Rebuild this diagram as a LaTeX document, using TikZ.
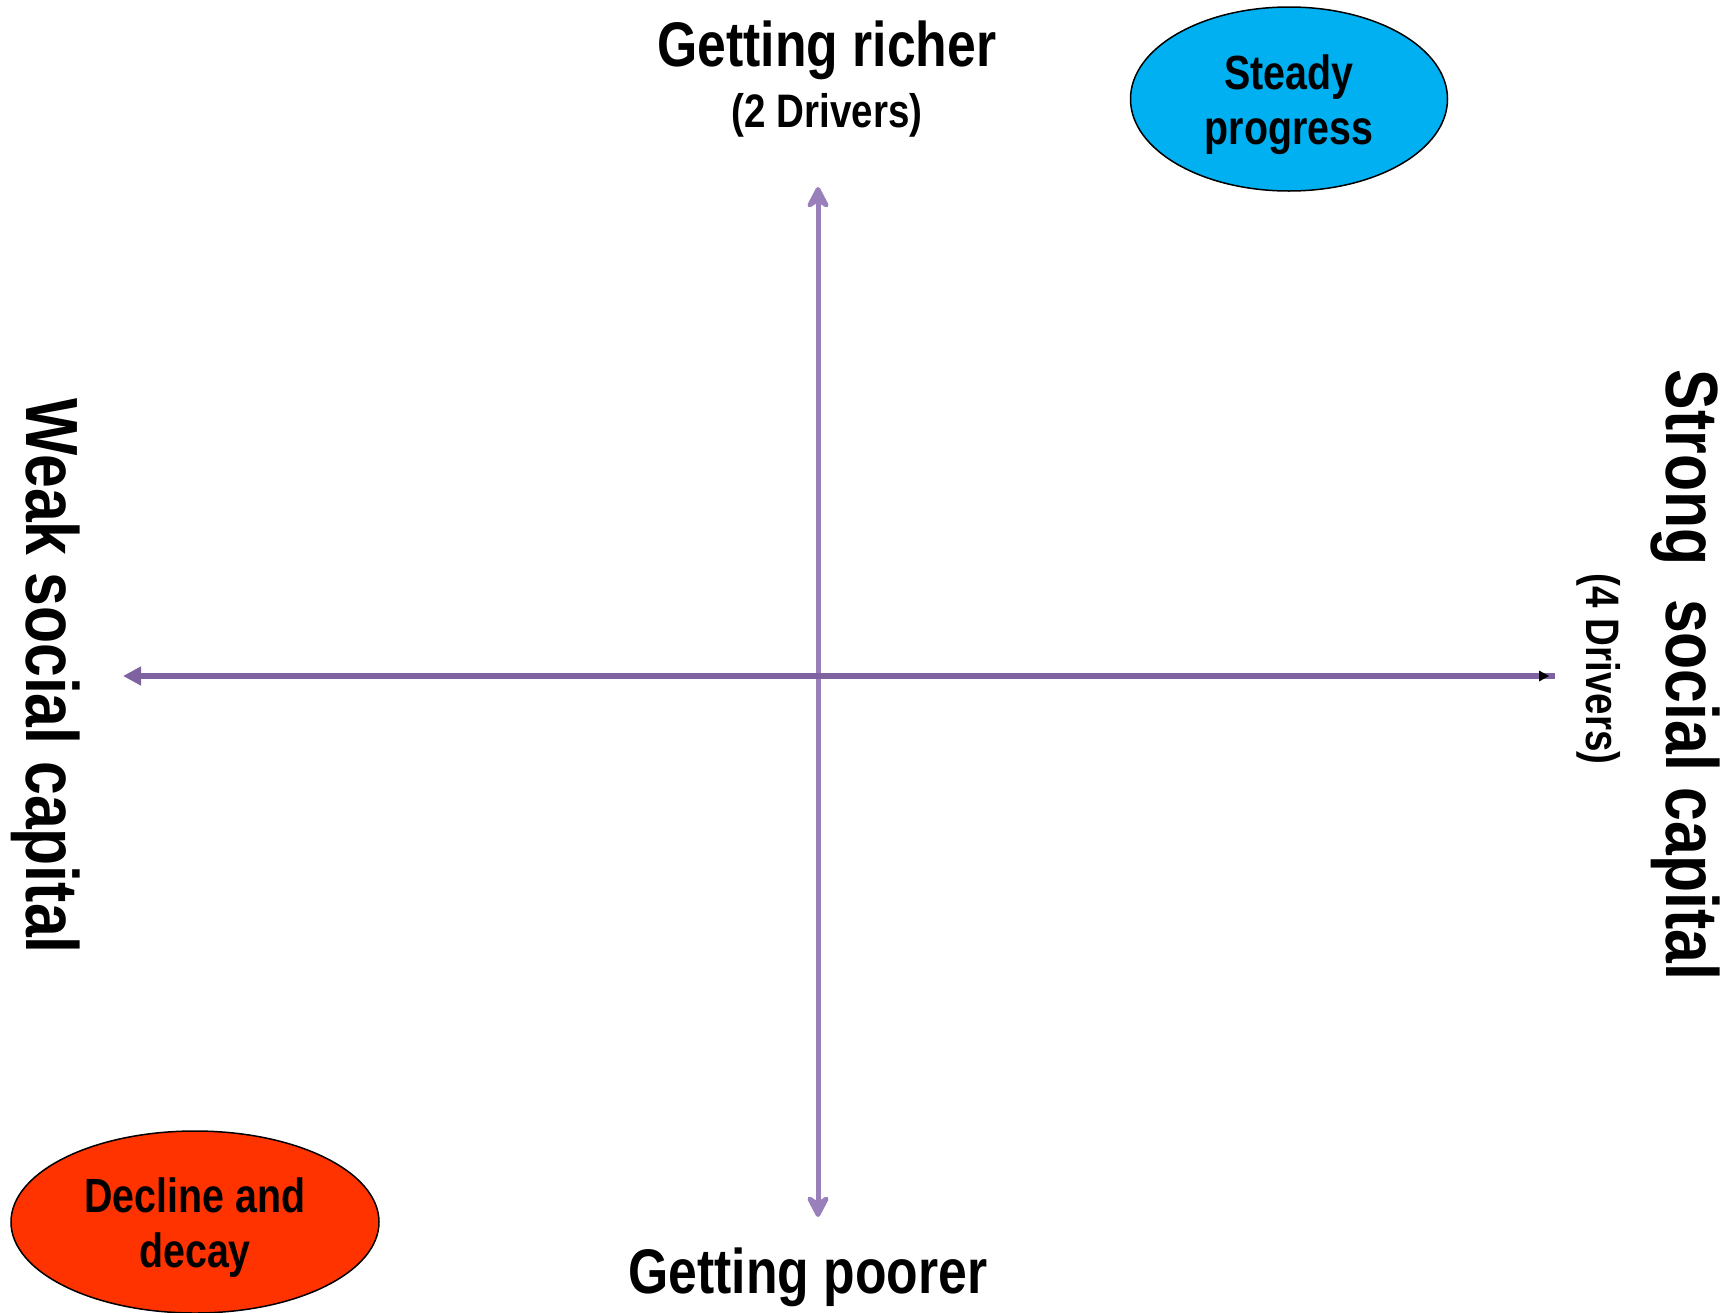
\documentclass[tikz,border=0pt]{standalone}
\usepackage{fontspec}
\setmainfont{Liberation Sans}[FakeStretch=0.82]
\usetikzlibrary{shapes.geometric,arrows.meta}
\definecolor{axisv}{HTML}{9A80BA}
\definecolor{axish}{HTML}{7F63A1}
\definecolor{bluefill}{HTML}{00B0F0}
\definecolor{redfill}{HTML}{FF3300}
\tikzset{
  big/.style={font=\fontsize{74}{80}\selectfont\bfseries},
  mid/.style={font=\fontsize{63}{70}\selectfont\bfseries},
  small/.style={font=\fontsize{47}{52}\selectfont\bfseries},
  blob/.style={ellipse, draw=black, line width=1.5pt, inner sep=0pt},
  blobtext/.style={align=center, font=\fontsize{48}{55}\selectfont\bfseries},
  vaxis/.style={draw=axisv, line width=5pt,
     {Stealth[length=27pt,width=28pt,inset=9pt,round]}-{Stealth[length=27pt,width=28pt,inset=9pt,round]}},
  haxis/.style={draw=axish, line width=5.5pt, {Triangle[length=18pt,width=18pt]}-},
}
\begin{document}
\begin{tikzpicture}[x=1pt,y=-1pt]
\useasboundingbox (0,0) rectangle (1729,1312);
% coordinates
\coordinate (vtop) at (818,187);
\coordinate (vbot) at (818,1217);
\coordinate (hleft) at (123,676);
\coordinate (hright) at (1555,676);
\coordinate (rtipback) at (1539,676);
\coordinate (rtip) at (1549,676);
% axes
\draw[vaxis] (vtop) -- (vbot);
\draw[haxis] (hleft) -- (hright);
\fill[black] (rtip) -- ([yshift=-5.5]rtipback) -- ([yshift=5.5]rtipback) -- cycle;
% ellipses
\node[blob, fill=bluefill, minimum width=317pt, minimum height=184pt] (steady) at (1289,99) {};
\node[blobtext] (steadytext) at (1289,105) {Steady\\progress};
\node[blob, fill=redfill, minimum width=368pt, minimum height=182pt] (decline) at (195,1222) {};
\node[blobtext] (declinetext) at (195,1228) {Decline and\\decay};
% labels
\node[mid] (richer) at (827,50) {Getting richer};
\node[small] (drivers2) at (827,115) {(2 Drivers)};
\node[mid] (poorer) at (808,1277) {Getting poorer};
\node[big, rotate=-90] (weak) at (46,676) {Weak social capital};
\node[big, rotate=-90] (strong) at (1685,675) {Strong\ \ social capital};
\node[small, rotate=-90] (drivers4) at (1599,669) {(4 Drivers)};
\end{tikzpicture}
\end{document}
